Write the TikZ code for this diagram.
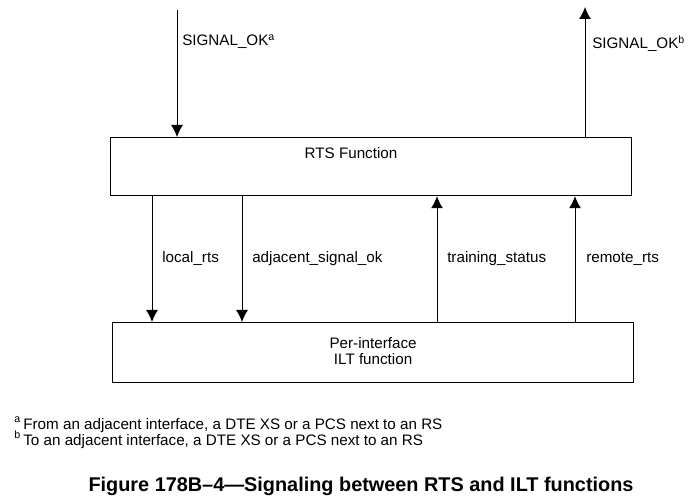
\documentclass[tikz,border=0pt]{standalone}
\usepackage{fontspec}
\setmainfont{Liberation Sans}
\usetikzlibrary{arrows.meta}
\tikzstyle{block}=[draw, line width=0.9pt, inner sep=0pt, anchor=north west]
\tikzstyle{sig}=[-{Latex[length=9pt, width=9pt]}, line width=0.75pt]
\tikzstyle{lbl}=[anchor=west, font=\fontsize{11.4}{13}\selectfont, inner sep=0pt]
\begin{document}
\begin{tikzpicture}[x=0.75pt, y=-0.75pt]
  \useasboundingbox (0,0) rectangle (689,502);
  \draw (110,137) node[block, minimum width=521*0.75pt, minimum height=58*0.75pt] (rts) {};
  \draw (112,322) node[block, minimum width=521*0.75pt, minimum height=60*0.75pt] (ilt) {};
  \draw (351,153) node[font=\fontsize{11.4}{13}\selectfont] (rtstext) {RTS Function};
  \draw (ilt.center) node[font=\fontsize{11.4}{12}\selectfont, align=center, yshift=1pt] (ilttext) {Per-interface\\ILT function};

  %% columns
  \coordinate (c1) at (177,0);
  \coordinate (c2) at (585,0);
  \coordinate (c3) at (152,0);
  \coordinate (c4) at (242,0);
  \coordinate (c5) at (437,0);
  \coordinate (c6) at (575,0);
  \coordinate (intop) at (177,10);
  \coordinate (outtop) at (585,7);

  \draw[sig] (intop) -- (c1 |- rts.north);
  \draw[sig] (c2 |- rts.north) -- (outtop);
  \draw[sig] (c3 |- rts.south) -- (c3 |- ilt.north);
  \draw[sig] (c4 |- rts.south) -- (c4 |- ilt.north);
  \draw[sig] (c5 |- ilt.north) -- (c5 |- rts.south);
  \draw[sig] (c6 |- ilt.north) -- (c6 |- rts.south);

  \draw (182,42) node[lbl] (sigin) {SIGNAL\_OK\textsuperscript{a}};
  \draw (592,44) node[lbl] (sigout) {SIGNAL\_OK\textsuperscript{b}};
  \draw (162,259) node[lbl] (lrts) {local\_rts};
  \draw (252,259) node[lbl] (adj) {adjacent\_signal\_ok};
  \draw (447,259) node[lbl] (train) {training\_status};
  \draw (586,259) node[lbl] (rrts) {remote\_rts};

  %% notes
  \draw (14,425) node[lbl] (notea) {\raisebox{1.5pt}{\textsuperscript{a}}\,From an adjacent interface, a DTE XS or a PCS next to an RS};
  \draw (14,440) node[lbl] (noteb) {\raisebox{1.5pt}{\textsuperscript{b}}\,To an adjacent interface, a DTE XS or a PCS next to an RS};
  \draw (361,486) node[font=\fontsize{14.9}{17}\selectfont\bfseries] (caption) {Figure 178B--4---Signaling between RTS and ILT functions};
\end{tikzpicture}
\end{document}
